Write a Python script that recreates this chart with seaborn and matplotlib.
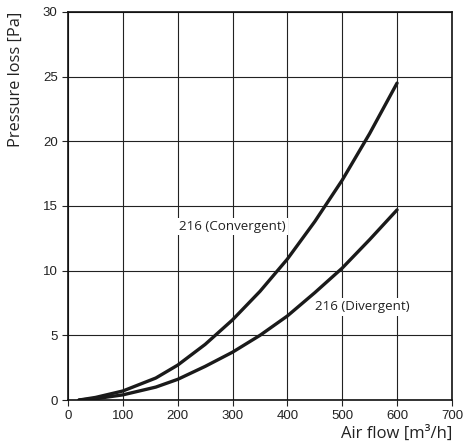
import pandas as pd
import matplotlib.pyplot as plt
import seaborn as sns

flow = [20, 50, 100, 160, 200, 250, 300, 350, 400, 450, 500, 550, 600]
convergent = [0.0, 0.2, 0.7, 1.7, 2.7, 4.3, 6.2, 8.4, 10.9, 13.8, 17.0, 20.6, 24.5]
divergent = [0.0, 0.1, 0.4, 1.0, 1.6, 2.6, 3.7, 5.0, 6.5, 8.3, 10.2, 12.4, 14.7]

df = pd.DataFrame({'flow': flow + flow,
                   'loss': convergent + divergent,
                   'series': ['216 (Convergent)'] * len(flow) + ['216 (Divergent)'] * len(flow)})

sns.set_style('white')
plt.rcParams['font.family'] = ['Liberation Sans', 'DejaVu Sans']

fig = plt.figure(figsize=(4.63, 4.43), dpi=100)
ax = fig.add_axes([0.147, 0.097, 0.829, 0.876])

sns.lineplot(data=df, x='flow', y='loss', units='series', estimator=None,
             color='#1a1a1a', linewidth=2.4, ax=ax)

ax.set_xlim(0, 700)
ax.set_ylim(0, 30)
ax.set_xticks(range(0, 701, 100))
ax.set_yticks(range(0, 31, 5))
ax.grid(True, color='#222222', linewidth=0.8)
ax.tick_params(axis='both', direction='out', length=4, width=0.8, colors='#222222',
               labelsize=9.5, labelcolor='#222222', bottom=True, left=True)
for s in ax.spines.values():
    s.set_color('#111111')
    s.set_linewidth(1.2)

ax.set_xlabel('')
ax.set_ylabel('')
fig.text(0.976, 0.003, 'Air flow [m³/h]', ha='right', va='bottom', fontsize=12,
         family=['Open Sans', 'DejaVu Sans'], color='#222222')
fig.text(0.016, 0.973, 'Pressure loss [Pa]', ha='left', va='top', rotation=90,
         fontsize=11.8, family=['Open Sans', 'DejaVu Sans'], color='#222222')

box = dict(facecolor='white', edgecolor='none', pad=1.5)
ax.text(203, 13.4, '216 (Convergent)', ha='left', va='center', fontsize=9.6,
        family=['Open Sans', 'DejaVu Sans'], color='#222222', bbox=box)
ax.text(451, 7.2, '216 (Divergent)', ha='left', va='center', fontsize=9.6,
        family=['Open Sans', 'DejaVu Sans'], color='#222222', bbox=box)

fig.savefig('out.png', dpi=100)
